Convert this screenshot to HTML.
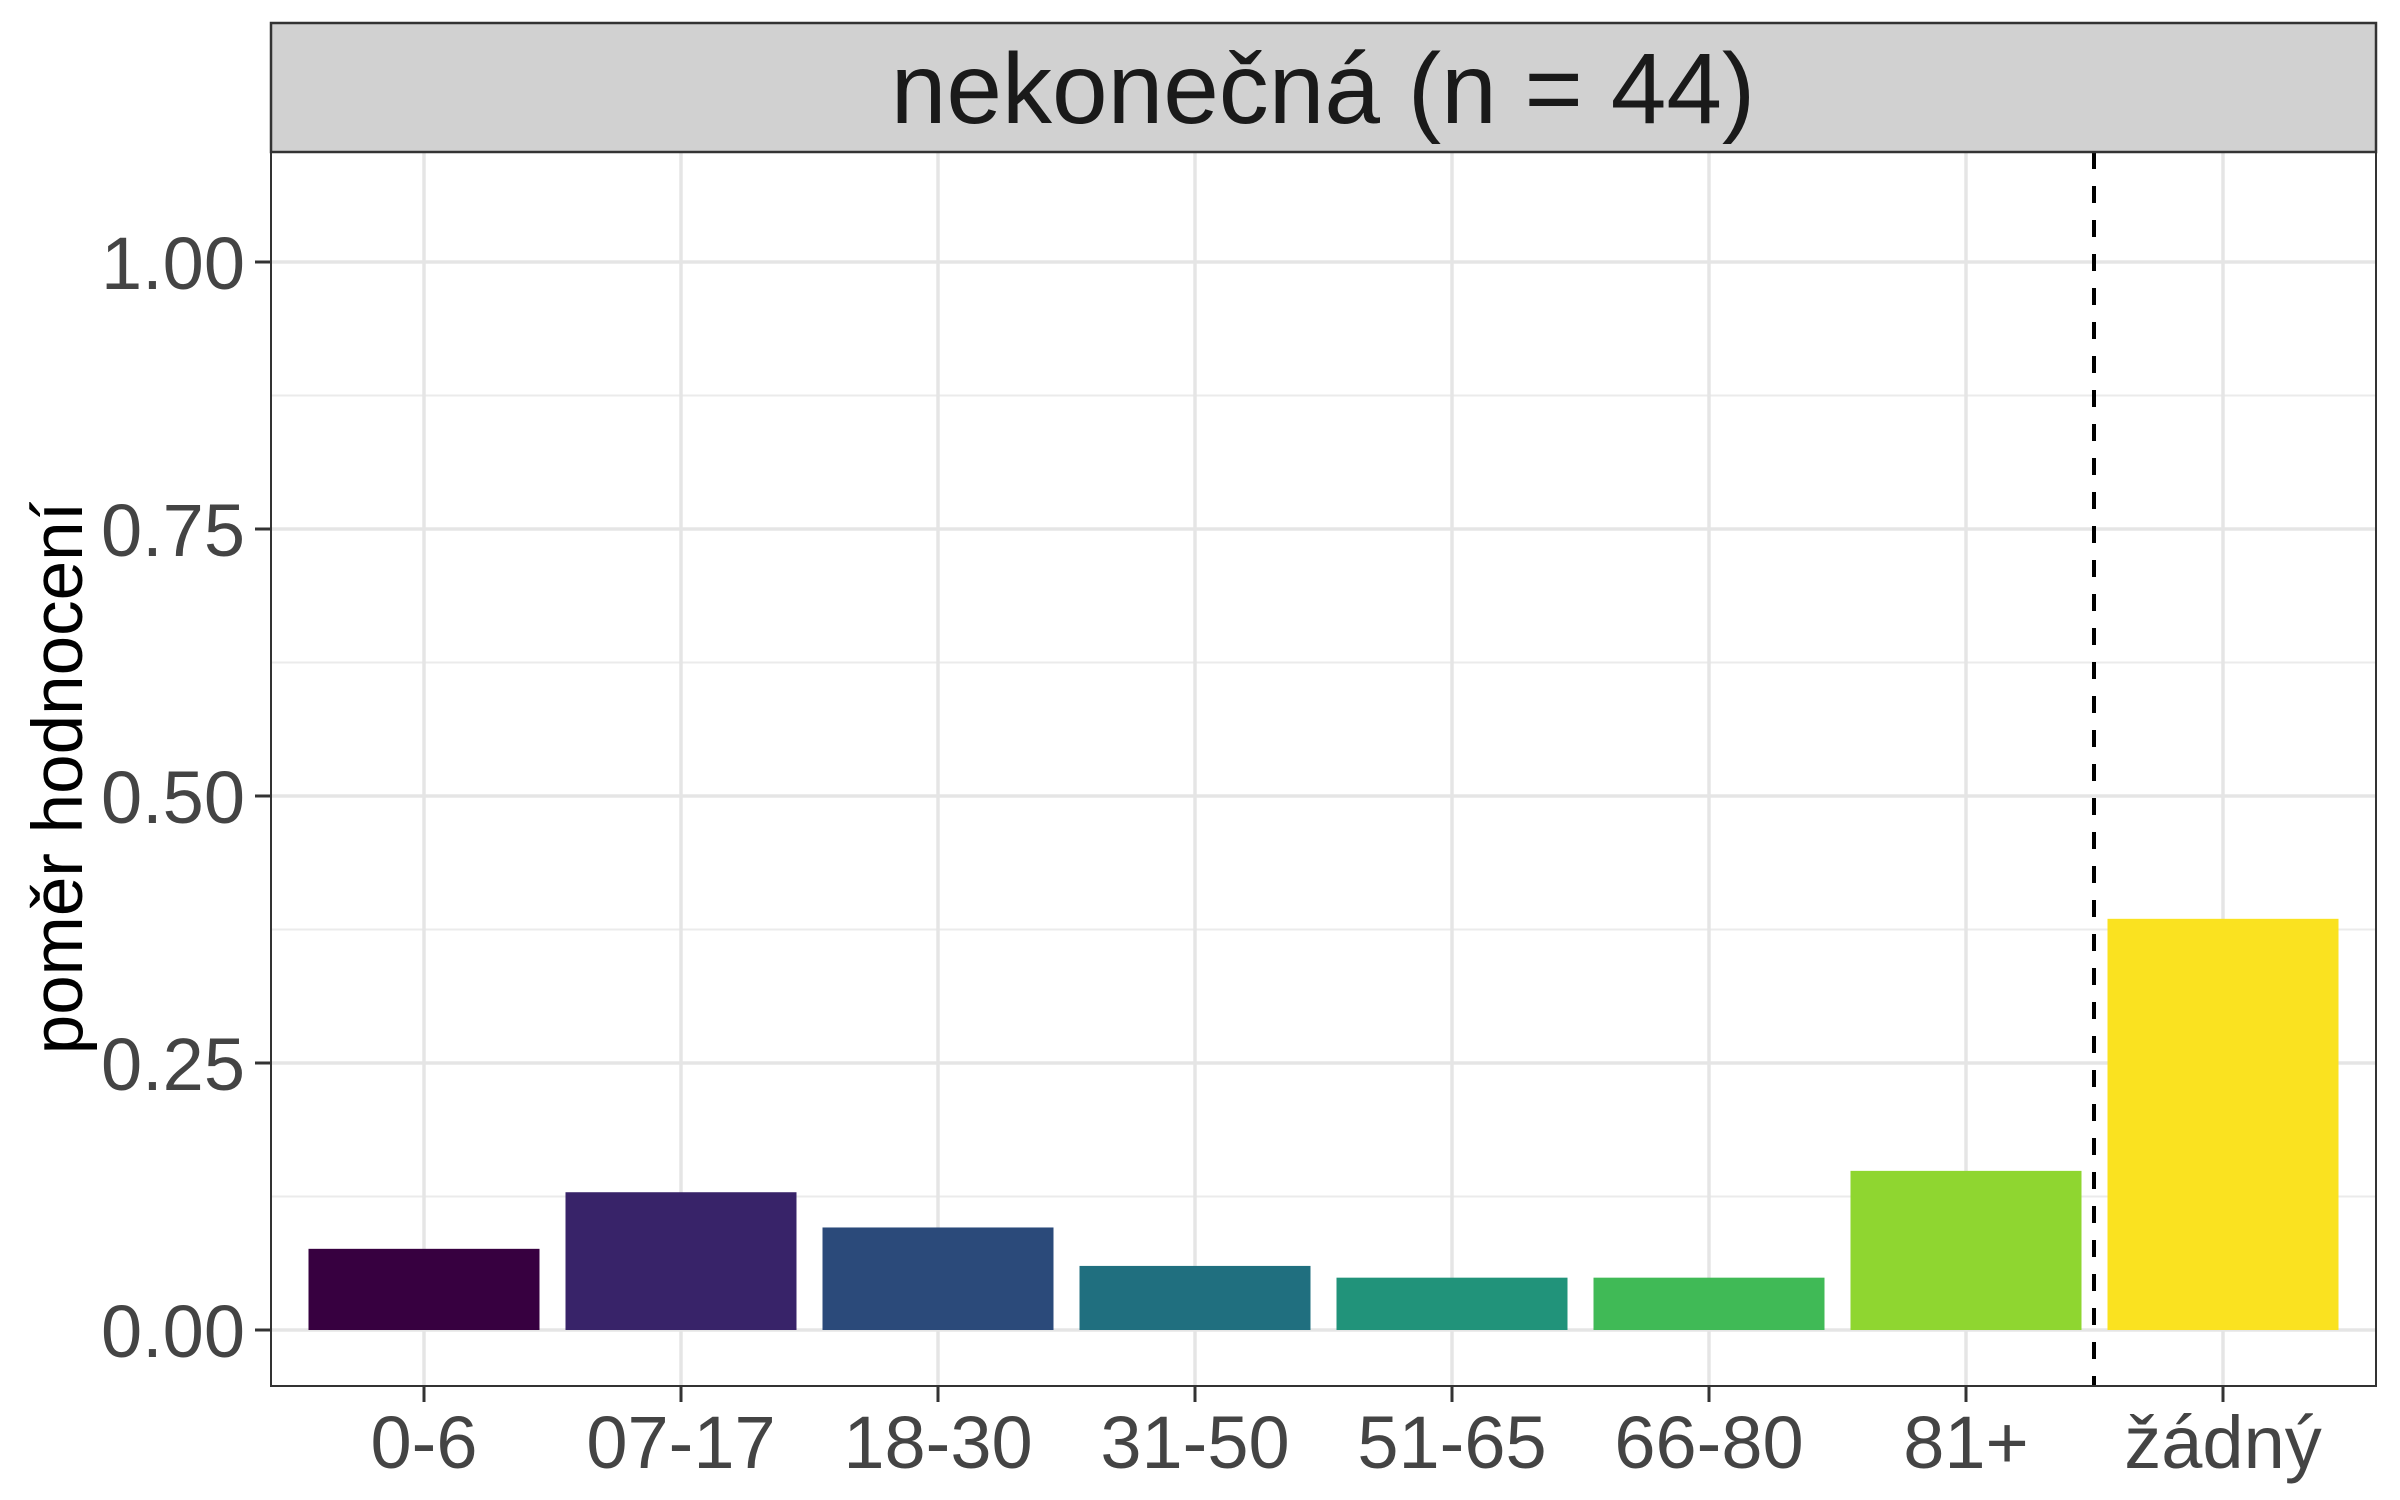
<!DOCTYPE html>
<html><head><meta charset="utf-8"><style>
html,body{margin:0;padding:0;background:#fff}
svg{display:block}
text{font-family:"Liberation Sans",Arial,sans-serif}
</style></head><body>
<svg id="chart" width="2400" height="1500" viewBox="0 0 2400 1500" xmlns="http://www.w3.org/2000/svg">
<rect x="0" y="0" width="2400" height="1500" fill="#fff"/>
<rect x="271" y="152" width="2105" height="1234" fill="#fff"/>
<g id="grid"></g>
<g id="bars"></g>
<line x1="2094" y1="152" x2="2094" y2="1386" stroke="#000" stroke-width="4" stroke-dasharray="17,17"/>
<rect x="271" y="152" width="2105" height="1234" fill="none" stroke="#333" stroke-width="2"/>
<rect x="271" y="23" width="2105" height="129" fill="#d1d1d1" stroke="#333" stroke-width="2.5"/>
<text x="1323" y="123" font-size="100" text-anchor="middle" fill="#1a1a1a">nekonečná (n = 44)</text>
<g id="axes"></g>
<text transform="translate(82,778) rotate(-90)" font-size="71" text-anchor="middle" fill="#000">poměr hodnocení</text>
</svg>
<script>
const categories = ["0-6","07-17","18-30","31-50","51-65","66-80","81+","žádný"];
const values = [0.076, 0.129, 0.096, 0.060, 0.049, 0.049, 0.149, 0.385];
const colors = ["#370040","#382369","#2b4a7a","#206f7f","#21937a","#40ba56","#8fd630","#fae220"];
const yTicks = [0, 0.25, 0.5, 0.75, 1.0];
const yTickLabels = ["0.00","0.25","0.50","0.75","1.00"];
const yMinor = [0.125, 0.375, 0.625, 0.875];

const NS = "http://www.w3.org/2000/svg";
const x0 = 424, step = 257, barW = 231;
function xPos(i){ return x0 + i*step; }
function yPos(v){ return 1330 - v*1068; }
function mk(tag, attrs, parent){
  const e = document.createElementNS(NS, tag);
  for (const k in attrs) e.setAttribute(k, attrs[k]);
  parent.appendChild(e); return e;
}
const grid = document.getElementById("grid");
const bars = document.getElementById("bars");
const axes = document.getElementById("axes");
yMinor.forEach(v=>{
  const l = mk("line",{x1:271,x2:2376,y1:yPos(v),y2:yPos(v),stroke:"#ebebeb","stroke-width":2},grid);
  
  
});
yTicks.forEach((v,i)=>{
  const l = mk("line",{x1:271,x2:2376,y1:yPos(v),y2:yPos(v),stroke:"#e5e5e5","stroke-width":3.5},grid);
  
  
  const t = mk("line",{x1:255,x2:271,y1:yPos(v),y2:yPos(v),stroke:"#333","stroke-width":3},axes);
  
  
  const tx = mk("text",{x:245,y:yPos(v)+27,"font-size":74,"text-anchor":"end",fill:"#444"},axes);
  tx.textContent = yTickLabels[i];
  
  
});
categories.forEach((c,i)=>{
  const g = mk("line",{x1:xPos(i),x2:xPos(i),y1:152,y2:1386,stroke:"#e5e5e5","stroke-width":3.5},grid);
  
  
  const r = mk("rect",{x:xPos(i)-barW/2,y:yPos(values[i]),width:barW,height:yPos(0)-yPos(values[i]),fill:colors[i]},bars);
  
  
  const t = mk("line",{x1:xPos(i),x2:xPos(i),y1:1386,y2:1402,stroke:"#333","stroke-width":3},axes);
  
  
  const tx = mk("text",{x:xPos(i),y:1468,"font-size":74,"text-anchor":"middle",fill:"#444"},axes);
  tx.textContent = c;
  
  
});
</script>
</body></html>
